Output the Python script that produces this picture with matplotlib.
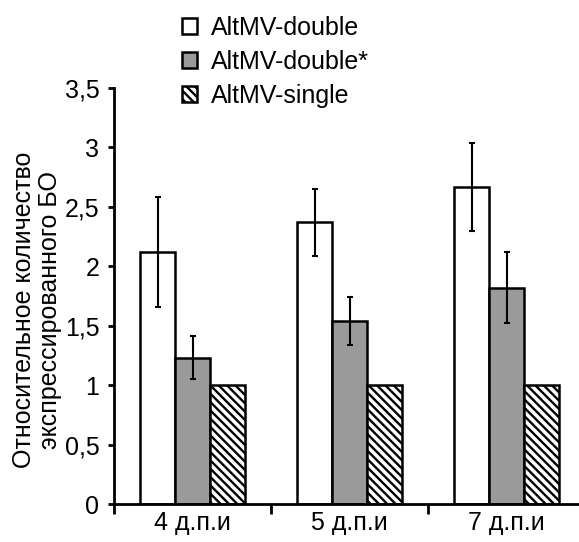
import matplotlib
matplotlib.use("Agg")
import matplotlib.pyplot as plt
import numpy as np

categories = ["4 д.п.и", "5 д.п.и", "7 д.п.и"]
series_names = ["AltMV-double", "AltMV-double*", "AltMV-single"]
double_vals = [2.12, 2.37, 2.67]
double_err = [0.46, 0.28, 0.37]
double_star_vals = [1.23, 1.54, 1.82]
double_star_err = [0.18, 0.20, 0.30]
single_vals = [1.0, 1.0, 1.0]
y_ticks = [0, 0.5, 1, 1.5, 2, 2.5, 3, 3.5]
y_tick_labels = ["0", "0,5", "1", "1,5", "2", "2,5", "3", "3,5"]
ylabel = "Относительное количество\nэкспрессированного БО"

plt.rcParams['font.family'] = ['Liberation Sans', 'DejaVu Sans']
plt.rcParams['hatch.linewidth'] = 1.7
plt.rcParams['hatch.color'] = 'black'

fig = plt.figure(figsize=(5.79, 5.42), dpi=100)
ax = fig.add_axes([114/579, 1-504/542, 1-114/579, (504-88)/542])

fs = 18
x = np.arange(len(categories)) + 0.5
w = 0.223
ekw = dict(elinewidth=1.5, capsize=2.5, capthick=1.5, ecolor='black')
b1 = ax.bar(x - w, double_vals, w, yerr=double_err, color='white', edgecolor='black',
            linewidth=1.8, error_kw=ekw, label=series_names[0], zorder=2)
b2 = ax.bar(x, double_star_vals, w, yerr=double_star_err, color='#9a9a9a', edgecolor='black',
            linewidth=1.8, error_kw=ekw, label=series_names[1], zorder=2)
b3 = ax.bar(x + w, single_vals, w, color='white', edgecolor='black', hatch='\\\\\\\\',
            linewidth=1.8, label=series_names[2], zorder=2)

ax.set_xlim(0, 2.96)
ax.set_ylim(0, 3.5)
ax.set_yticks(y_ticks)
ax.set_yticklabels(y_tick_labels, fontsize=fs)
ax.set_xticks([0, 1, 2])
ax.set_xticklabels([])
ax.set_xticks(x, minor=True)
ax.set_xticklabels(categories, minor=True, fontsize=fs)
ax.tick_params(axis='x', which='minor', length=0, pad=5)
ax.tick_params(axis='x', which='major', length=7, width=2, direction='out')
ax.tick_params(axis='y', length=4.5, width=2, direction='out', pad=6)

for s in ['top', 'right']:
    ax.spines[s].set_visible(False)
for s in ['left', 'bottom']:
    ax.spines[s].set_linewidth(2)
ax.spines['left'].set_zorder(3)
ax.spines['bottom'].set_zorder(3)

fig.text(37/579, 1-310/542, ylabel, rotation=90, ha='center', va='center',
         multialignment='center', fontsize=fs, linespacing=1.1)

leg = fig.legend(handles=[b1, b2, b3], labels=series_names, loc='upper left',
                 bbox_to_anchor=(182/579, 1-16/542), frameon=False, fontsize=fs,
                 handlelength=0.6, handleheight=0.6, handletextpad=0.55,
                 labelspacing=0.4, borderpad=0, borderaxespad=0)

fig.savefig("out.png", dpi=100)
